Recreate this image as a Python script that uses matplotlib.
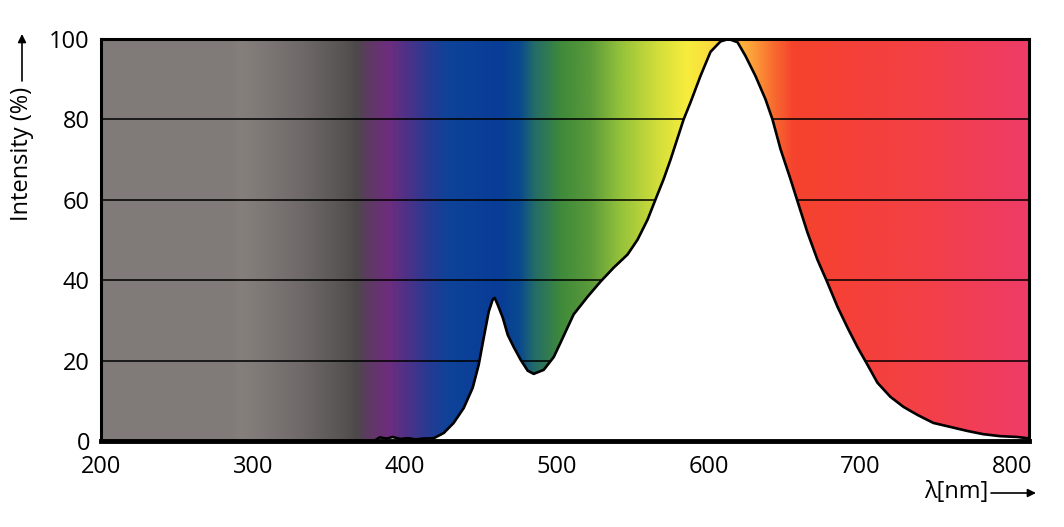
import numpy as np
import matplotlib
matplotlib.use("Agg")
from matplotlib import pyplot as plt
from matplotlib.colors import LinearSegmentedColormap

# emission spectrum (wavelength nm, relative intensity %)
wavelength = [200, 379.6, 383.6, 388, 392, 397, 402, 407, 412, 419.1, 425.7,
              432.2, 438.8, 444.7, 448.7, 452.0, 455.3, 457.9, 459.2, 461.2,
              464.5, 467.8, 471.7, 476.3, 480.9, 484.9, 491.5, 498.1, 502.6,
              511.2, 520.4, 529.0, 537.5, 546.7, 553.3, 559.9, 565.1, 570.4,
              575.0, 583.6, 588.2, 594.7, 601.3, 607.9, 613.2, 619.1, 624.3,
              630.9, 637.5, 642.1, 647.4, 654.0, 658.6, 665.1, 671.7, 678.3,
              684.9, 691.5, 698.0, 704.6, 711.2, 719.7, 728.3, 737.5, 748.0,
              759.2, 770.4, 780.9, 792.1, 803.3, 809.9, 811]
intensity = [0, 0, 0.9, 0.6, 1.0, 0.5, 0.7, 0.4, 0.6, 0.7, 2.0,
             4.5, 8.2, 13.2, 19.0, 25.7, 32.2, 35.2, 35.6, 33.9,
             30.7, 26.4, 23.4, 20.2, 17.5, 16.7, 17.7, 20.9, 24.5,
             31.5, 35.9, 39.7, 43.1, 46.4, 50.1, 55.1, 60.1, 65.1,
             70.0, 80.0, 84.3, 90.8, 96.8, 99.4, 100.0, 99.2, 95.8,
             90.8, 85.0, 80.0, 72.6, 65.1, 59.6, 51.9, 45.1, 39.4,
             33.4, 28.2, 23.4, 19.0, 14.5, 11.0, 8.5, 6.5, 4.5,
             3.5, 2.5, 1.7, 1.2, 1.0, 0.7, 0.6]

y_ticks = [0, 20, 40, 60, 80, 100]
x_ticks = [200, 300, 400, 500, 600, 700, 800]
x_min, x_max = 200, 811

# background spectrum colours (nm, colour)
spectrum_stops = [(200, "#807b78"), (287, "#817c79"), (292, "#86807d"),
                  (332, "#6f6a69"), (362, "#555150"), (368, "#4d494a"),
                  (376, "#5e3a62"), (389, "#6e2d7e"), (402, "#4c3288"),
                  (415, "#283a92"), (428, "#0e4399"), (463, "#083c97"),
                  (476, "#0a4a8f"), (485, "#236b6a"), (503, "#3f8a3a"),
                  (522, "#5a9a3a"), (542, "#94c23a"), (568, "#d5df3a"),
                  (586, "#f7ed3e"), (608, "#fbd23c"), (628, "#fda33a"),
                  (643, "#f86b30"), (656, "#f5432d"), (700, "#f4403a"),
                  (744, "#f34048"), (811, "#ef3c68")]

plt.rcParams['font.family'] = ['Open Sans', 'DejaVu Sans']

fig = plt.figure(figsize=(10.64, 5.27), dpi=100)
ax = fig.add_axes([101/1064, 1 - 441/527, 928/1064, 402/527])

cmap = LinearSegmentedColormap.from_list(
    "spec", [((w - x_min) / (x_max - x_min), c) for w, c in spectrum_stops], N=1024)
ax.imshow(np.linspace(0, 1, 1024)[None, :], cmap=cmap, aspect='auto',
          extent=[x_min, x_max, 0, 100], zorder=0, interpolation='bilinear')

for yv in y_ticks[1:-1]:
    ax.axhline(yv, color='black', lw=1.1, zorder=1)

ax.fill_between(wavelength, 0, intensity, color='white', lw=0, zorder=2)
ax.plot(wavelength, intensity, color='black', lw=1.9, zorder=3,
        solid_joinstyle='round')

ax.set_xlim(x_min, x_max)
ax.set_ylim(0, 100)
ax.set_xticks(x_ticks)
ax.set_yticks(y_ticks)
ax.tick_params(length=0, labelsize=17)
ax.tick_params(axis='x', pad=10)
ax.tick_params(axis='y', pad=8)
for side in ['left', 'right', 'top']:
    ax.spines[side].set_linewidth(2.2)
ax.spines['bottom'].set_linewidth(3.5)

# axis titles with arrows
fig.text(22/1064, 1 - 87/527, "Intensity (%)", rotation=90, ha='center', va='top',
         fontsize=17)
fig.add_artist(plt.Annotation("", xy=(22/1064, 1 - 34/527), xycoords='figure fraction',
                              xytext=(22/1064, 1 - 81/527), textcoords='figure fraction',
                              arrowprops=dict(arrowstyle='-|>', color='black', lw=1.2,
                                              mutation_scale=12, shrinkA=0, shrinkB=0)))
fig.text(988/1064, 1 - 492/527, "λ[nm]", ha='right', va='center', fontsize=17)
fig.add_artist(plt.Annotation("", xy=(1036/1064, 1 - 493/527), xycoords='figure fraction',
                              xytext=(991/1064, 1 - 493/527), textcoords='figure fraction',
                              arrowprops=dict(arrowstyle='-|>', color='black', lw=1.2,
                                              mutation_scale=12, shrinkA=0, shrinkB=0)))

fig.savefig("out.png", dpi=100)
